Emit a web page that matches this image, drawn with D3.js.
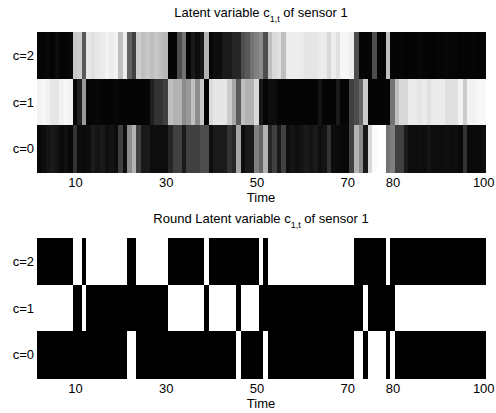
<!DOCTYPE html>
<html>
<head>
<meta charset="utf-8">
<script src="https://cdn.jsdelivr.net/npm/d3@7"></script>
<style>
  body { margin: 0; background: #fff; }
  text { font-family: "Liberation Sans", Arial, sans-serif; fill: #000; }
</style>
</head>
<body>
<svg width="496" height="413"></svg>
<script>
// time steps 2..100
const times = d3.range(2, 101);
const classes = [2, 1, 0];
const xTicks = [10, 30, 50, 70, 80, 100];

// soft latent values (0 = black, 1 = white), one per time step
const probC2 = [
  0.02, 0.02, 0.03, 0.02, 0.05, 0.02, 0.02, 0.03,
  0.78, 0.8, 0.35, 0.9, 0.88, 0.9, 0.92, 0.95, 0.93, 0.95, 0.75, 0.93,
  0.38, 0.25, 0.8, 0.75, 0.78, 0.75, 0.78, 0.75, 0.72,
  0.02, 0.02, 0.3, 0.45, 0.02, 0.1, 0.05, 0.1, 0.7,
  0.02, 0.05, 0.05, 0.1, 0.1, 0.15, 0.15, 0.3, 0.35, 0.45, 0.5,
  0.55, 0.3, 0.75, 0.85, 0.88, 0.75, 0.93, 0.93, 0.93, 0.92,
  0.9, 0.9, 0.9, 0.92, 0.92, 0.85, 0.93, 0.88, 0.97, 0.97,
  0.93, 0.3, 0.02, 0.02, 0.02, 0.3, 0.02, 0.02, 0.75, 0.02,
  0.02, 0.02, 0.01, 0.02, 0.02, 0.03, 0.02, 0.02, 0.01, 0.02,
  0.02, 0.03, 0.02, 0.02, 0.01, 0.02, 0.02, 0.02, 0.01, 0.02
];
const probC1 = [
  0.95, 0.97, 0.95, 0.9, 0.9, 0.95, 0.97, 0.95,
  0.02, 0.13, 0.6, 0.02, 0.02, 0.03, 0.02, 0.02, 0.02, 0.03, 0.02, 0.02,
  0.02, 0.02, 0.02, 0.02, 0.02, 0.12, 0.2, 0.2, 0.25,
  0.75, 0.7, 0.7, 0.55, 0.6, 0.75, 0.55, 0.78, 0.0,
  0.85, 0.9, 0.9, 0.9, 0.8, 0.65, 0.35, 0.75, 0.7, 0.7, 0.85,
  0.1, 0.02, 0.05, 0.05, 0.02, 0.02, 0.02, 0.02, 0.02, 0.02,
  0.02, 0.02, 0.02, 0.08, 0.02, 0.02, 0.02, 0.1, 0.02, 0.02,
  0.25, 0.3, 0.4, 0.8, 0.02, 0.02, 0.02, 0.02, 0.02, 0.45,
  0.75, 0.85, 0.85, 0.92, 0.92, 0.9, 0.92, 0.88, 0.92, 0.92,
  0.92, 0.88, 0.88, 0.88, 0.95, 0.8, 0.95, 0.95, 0.97, 0.97
];
const probC0 = [
  0.03, 0.05, 0.08, 0.1, 0.08, 0.04, 0.06, 0.03,
  0.2, 0.05, 0.04, 0.05, 0.1, 0.08, 0.1, 0.06, 0.08, 0.05, 0.25, 0.05,
  0.55, 0.7, 0.25, 0.1, 0.1, 0.05, 0.05, 0.05, 0.05,
  0.15, 0.25, 0.25, 0.1, 0.25, 0.25, 0.25, 0.3, 0.3,
  0.05, 0.1, 0.1, 0.1, 0.2, 0.15, 0.65, 0.05, 0.1, 0.1, 0.5,
  0.4, 0.7, 0.15, 0.25, 0.1, 0.25, 0.05, 0.08, 0.06, 0.08,
  0.1, 0.08, 0.1, 0.06, 0.08, 0.2, 0.05, 0.04, 0.03, 0.03,
  0.25, 0.7, 0.55, 0.1, 0.85, 0.98, 1.0, 1.0, 0.45, 0.5,
  0.25, 0.25, 0.1, 0.05, 0.05, 0.06, 0.05, 0.08, 0.05, 0.05,
  0.05, 0.06, 0.05, 0.06, 0.04, 0.2, 0.04, 0.04, 0.04, 0.05
];

// rounded latent class per time step
const roundState = [
  1, 1, 1, 1, 1, 1, 1, 1,
  2, 2, 1, 2, 2, 2, 2, 2, 2, 2, 2, 2,
  0, 0, 2, 2, 2, 2, 2, 2, 2,
  1, 1, 1, 1, 1, 1, 1, 1, 2,
  1, 1, 1, 1, 1, 1, 0, 1, 1, 1, 1,
  2, 0, 2, 2, 2, 2, 2, 2, 2, 2,
  2, 2, 2, 2, 2, 2, 2, 2, 2, 2,
  2, 0, 0, 1, 0, 0, 0, 0, 2, 0,
  1, 1, 1, 1, 1, 1, 1, 1, 1, 1,
  1, 1, 1, 1, 1, 1, 1, 1, 1, 1
];

const svg = d3.select("svg");

const x = d3.scaleLinear().domain([1.5, 100.5]).range([36.5, 485.5]);
const gray = d3.scaleLinear().domain([0, 1]).range(["#000", "#fff"]).clamp(true);

const softRows = { 2: probC2, 1: probC1, 0: probC0 };
const fontSize = 13;

function drawPanel(top, cellValue, titleMain) {
  const y = d3.scaleBand().domain(classes).range([top, top + 140]);
  const g = svg.append("g");

  const cells = [];
  classes.forEach((c) => {
    times.forEach((t, i) => cells.push({ c: c, t: t, v: cellValue(c, i) }));
  });

  g.append("g")
    .attr("shape-rendering", "crispEdges")
    .selectAll("rect")
    .data(cells)
    .enter()
    .append("rect")
    .attr("x", (d) => x(d.t - 0.5))
    .attr("y", (d) => y(d.c))
    .attr("width", (d) => x(d.t + 0.5) - x(d.t - 0.5) + (d.t < 100 ? 1 : 0))
    .attr("height", y.bandwidth() + (d => 0)() + 1)
    .attr("fill", (d) => gray(d.v));

  // class labels
  g.selectAll(".ylab")
    .data(classes)
    .enter()
    .append("text")
    .attr("class", "ylab")
    .attr("x", 34)
    .attr("y", (d) => y(d) + y.bandwidth() / 2)
    .attr("dy", "0.35em")
    .attr("text-anchor", "end")
    .style("font-size", fontSize + "px")
    .text((d) => "c=" + d);

  // x axis, labels only
  const ax = g.append("g")
    .attr("transform", `translate(0, ${top + 140})`)
    .call(d3.axisBottom(x).tickValues(xTicks).tickSize(0).tickPadding(6));
  ax.select(".domain").remove();
  ax.selectAll("text")
    .style("font-size", fontSize + "px")
    .style("font-family", '"Liberation Sans", Arial, sans-serif')
    .attr("fill", "#000");

  g.append("text")
    .attr("x", 261)
    .attr("y", top + 170)
    .attr("text-anchor", "middle")
    .style("font-size", fontSize + "px")
    .text("Time");

  // title with subscript
  const title = g.append("text")
    .attr("x", 261)
    .attr("y", top - 15)
    .attr("text-anchor", "middle")
    .style("font-size", fontSize + "px");
  title.append("tspan").text(titleMain + " c");
  title.append("tspan").attr("dy", 5).style("font-size", "9px").text("1,t");
  title.append("tspan").attr("dy", -5).text(" of sensor 1");
}

drawPanel(32, (c, i) => softRows[c][i], "Latent variable");
drawPanel(238, (c, i) => (roundState[i] === c ? 1 : 0), "Round Latent variable");
</script>
</body>
</html>
